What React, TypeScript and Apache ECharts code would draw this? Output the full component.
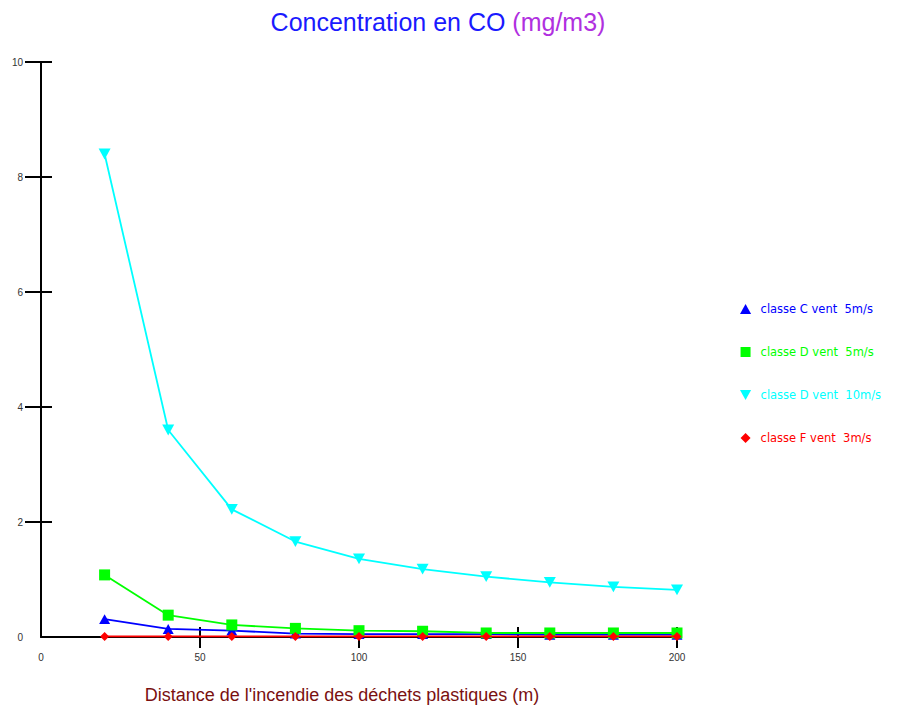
import React, { useEffect, useRef } from "react";
import * as echarts from "echarts";

const distances = [20, 40, 60, 80, 100, 120, 140, 160, 180, 200];
const seriesNames = [
  "classe C vent  5m/s",
  "classe D vent  5m/s",
  "classe D vent  10m/s",
  "classe F vent  3m/s",
];
const classeC5 = [0.31, 0.14, 0.11, 0.06, 0.05, 0.05, 0.05, 0.04, 0.04, 0.04];
const classeD5 = [1.08, 0.38, 0.21, 0.15, 0.11, 0.1, 0.07, 0.07, 0.07, 0.07];
const classeD10 = [8.4, 3.6, 2.22, 1.66, 1.36, 1.18, 1.05, 0.95, 0.87, 0.82];
const classeF3 = [0.01, 0.01, 0.01, 0.01, 0.01, 0.01, 0.01, 0.01, 0.01, 0.01];
const yTicks = [2, 4, 6, 8, 10];
const xTicks = [50, 100, 150, 200];
const yLabels = [0, 2, 4, 6, 8, 10];
const xLabels = [0, 50, 100, 150, 200];

const colors = ["#0000ff", "#00ff00", "#00ffff", "#ff0000"];
const symbols = [
  "path://M5,0 L10,9 L0,9 Z",
  "path://M0,0 L10,0 L10,10 L0,10 Z",
  "path://M0,0 L10,0 L5,9 Z",
  "path://M5,0 L10,5 L5,10 L0,5 Z",
];
const symbolSizes = [11, 11, 12, 9];
const allData = [classeC5, classeD5, classeD10, classeF3];

const FONT = "'Liberation Sans', Arial, sans-serif";
const WIDE = "'DejaVu Sans', Verdana, sans-serif";

export default function App() {
  const ref = useRef<HTMLDivElement>(null);
  useEffect(() => {
    if (!ref.current) return;
    const chart = echarts.init(ref.current, undefined, { renderer: "svg" });
    const axisLineStyle = { color: "#000", width: 2 };
    chart.setOption({
      animation: false,
      backgroundColor: "#fff",
      textStyle: { fontFamily: FONT },
      title: [
        {
          text: "{a|Concentration en CO }{b|(mg/m3)}",
          left: 433,
          top: 4,
          textAlign: "center",
          textStyle: {
            rich: {
              a: { fontSize: 25, fontWeight: "normal", color: "#1a1aff", fontFamily: FONT },
              b: { fontSize: 25, fontWeight: "normal", color: "#b030e0", fontFamily: FONT },
            },
          },
        },
        {
          text: "Distance de l'incendie des déchets plastiques (m)",
          left: 337,
          top: 681,
          textAlign: "center",
          textStyle: { fontSize: 18, fontWeight: "normal", color: "#7a1010", fontFamily: FONT },
        },
      ],
      legend: {
        orient: "vertical",
        left: 735,
        top: 298,
        itemWidth: 20,
        itemHeight: 10,
        itemGap: 31,
        symbolKeepAspect: true,
        data: seriesNames.map((n, i) => ({
          name: n,
          icon: symbols[i],
          textStyle: { color: colors[i], fontSize: 11.5, fontFamily: WIDE },
        })),
      },
      grid: { left: 41, right: 224, top: 62, bottom: 72, containLabel: false },
      xAxis: [
        {
          type: "value",
          min: 0,
          max: 200,
          interval: 50,
          axisLine: { lineStyle: axisLineStyle },
          axisTick: { show: true, length: 11, customValues: xTicks, lineStyle: { color: "#000", width: 2 } },
          axisLabel: { customValues: xLabels, margin: 15, fontSize: 10, color: "#333", fontFamily: FONT },
          splitLine: { show: false },
        },
        {
          type: "value",
          min: 0,
          max: 200,
          interval: 50,
          position: "bottom",
          axisLine: { show: false },
          axisTick: { show: true, inside: true, length: 10, customValues: xTicks, lineStyle: { color: "#000", width: 2 } },
          axisLabel: { show: false },
          splitLine: { show: false },
        },
      ],
      yAxis: [
        {
          type: "value",
          min: 0,
          max: 10,
          interval: 2,
          axisLine: { show: true, lineStyle: axisLineStyle },
          axisTick: { show: true, length: 16, customValues: yTicks, lineStyle: { color: "#000", width: 2 } },
          axisLabel: { customValues: yLabels, margin: 18, fontSize: 10, color: "#333", fontFamily: FONT },
          splitLine: { show: false },
        },
        {
          type: "value",
          min: 0,
          max: 10,
          interval: 2,
          position: "left",
          axisLine: { show: false },
          axisTick: { show: true, inside: true, length: 11, customValues: yTicks, lineStyle: { color: "#000", width: 2 } },
          axisLabel: { show: false },
          splitLine: { show: false },
        },
      ],
      series: seriesNames.map((n, i) => ({
        name: n,
        type: "line",
        xAxisIndex: 0,
        yAxisIndex: 0,
        data: distances.map((d, j) => [d, allData[i][j]]),
        symbol: symbols[i],
        symbolSize: symbolSizes[i],
        symbolKeepAspect: true,
        showSymbol: true,
        color: colors[i],
        lineStyle: { color: colors[i], width: 1.8 },
        itemStyle: { color: colors[i] },
        z: 3 + i,
      })),
    });
    return () => chart.dispose();
  }, []);
  return (
    <div
      ref={ref}
      style={{ position: "fixed", left: 0, top: 0, width: 901, height: 709 }}
    />
  );
}
